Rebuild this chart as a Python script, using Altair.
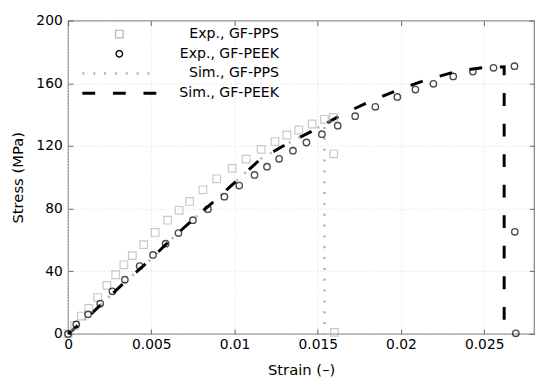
import altair as alt
import pandas as pd

series_names = ["Exp., GF-PPS", "Exp., GF-PEEK", "Sim., GF-PPS", "Sim., GF-PEEK"]

exp_pps_strain = [0, 0.0004, 0.0008, 0.00124, 0.00178, 0.00233, 0.00286, 0.00335, 0.00386,
                  0.00454, 0.00523, 0.00598, 0.00667, 0.0073, 0.0081, 0.00893, 0.00986,
                  0.0107, 0.0116, 0.01243, 0.01314, 0.01386, 0.01466, 0.0154, 0.01594,
                  0.01596, 0.016]
exp_pps_stress = [0, 5.5, 11.4, 16.3, 23.2, 31.0, 37.8, 44.1, 50.0, 57.0, 64.8, 72.6, 78.9,
                  84.6, 92.0, 99.0, 105.7, 111.6, 117.8, 122.8, 127.0, 130.2, 134.0, 137.0,
                  138.2, 115.0, 1.0]

exp_peek_strain = [0, 0.00049, 0.0012, 0.00193, 0.00266, 0.00341, 0.0043, 0.0051, 0.00586,
                   0.00663, 0.0075, 0.0084, 0.00939, 0.01028, 0.0112, 0.01195, 0.01268,
                   0.01351, 0.01432, 0.01525, 0.0162, 0.01725, 0.01846, 0.01978, 0.02087,
                   0.02195, 0.02314, 0.02432, 0.02556, 0.02682, 0.02684, 0.0269]
exp_peek_stress = [0, 6.1, 12.5, 19.4, 27.2, 34.6, 43.3, 50.4, 57.6, 64.4, 72.6, 79.6, 87.6,
                   94.7, 101.5, 106.8, 111.8, 117.0, 122.2, 127.5, 132.9, 139.0, 145.0, 151.3,
                   156.0, 159.7, 164.4, 167.5, 169.9, 170.9, 65.2, 0.4]

sim_pps_strain = [0, 0.0013, 0.0034, 0.0049, 0.006, 0.0075, 0.0088, 0.0102, 0.0116, 0.0133,
                  0.0148, 0.0154, 0.0154]
sim_pps_stress = [0, 12.0, 33.0, 47.0, 58.5, 73.0, 85.0, 98.5, 112.0, 122.2, 130.5, 134.0, 0]

sim_peek_strain = [0, 0.0013, 0.0034, 0.0049, 0.006, 0.0075, 0.0088, 0.0102, 0.0116, 0.0133,
                   0.015, 0.0165, 0.0182, 0.02, 0.0217, 0.0235, 0.0252, 0.0262, 0.0262]
sim_peek_stress = [0, 12.0, 33.0, 47.0, 58.5, 73.0, 85.0, 98.5, 112.0, 122.2, 131.3, 140.3,
                   148.7, 156.5, 162.8, 168.0, 170.3, 170.5, 0]

x_ticks = [0, 0.005, 0.01, 0.015, 0.02, 0.025]
y_ticks = [0, 40, 80, 120, 160, 200]

colors = ["#b3b3b3", "#000000", "#b3b3b3", "#000000"]
shapes = ["square", "circle", "stroke", "stroke"]
dashes = [[1, 0], [1, 0], [2, 9], [13, 18]]
widths = [1.2, 1.4, 2.6, 3.0]
sizes = [60, 42, 5625, 5625]

exp_df = pd.concat([
    pd.DataFrame({"strain": exp_pps_strain, "stress": exp_pps_stress, "series": series_names[0]}),
    pd.DataFrame({"strain": exp_peek_strain, "stress": exp_peek_stress, "series": series_names[1]}),
], ignore_index=True)

sim_df = pd.concat([
    pd.DataFrame({"strain": sim_pps_strain, "stress": sim_pps_stress, "series": series_names[2],
                  "idx": range(len(sim_pps_strain))}),
    pd.DataFrame({"strain": sim_peek_strain, "stress": sim_peek_stress, "series": series_names[3],
                  "idx": range(len(sim_peek_strain))}),
], ignore_index=True)

font = "DejaVu Sans"
xscale = alt.Scale(domain=[0, 0.028], nice=False, zero=False)
yscale = alt.Scale(domain=[0, 200], nice=False)

legend = alt.Legend(
    title=None, orient="none", legendX=13, legendY=4, direction="vertical",
    labelFont=font, labelFontSize=14.3, labelColor="#000", labelOffset=123, labelAlign="right",
    clipHeight=19.3, rowPadding=0, padding=0, symbolOpacity=1,
)

color_scale = alt.Scale(domain=series_names, range=colors)
shape_scale = alt.Scale(domain=series_names, range=shapes)
dash_scale = alt.Scale(domain=series_names, range=dashes)
width_scale = alt.Scale(type="ordinal", domain=series_names, range=widths)
size_scale = alt.Scale(type="ordinal", domain=series_names, range=sizes)

axis_common = dict(
    labelFont=font, labelFontSize=14, labelColor="#000", titleFont=font, titleFontSize=15,
    titleFontWeight="normal", titleColor="#000", domain=False, offset=-5, tickSize=5,
    tickColor="#666", tickWidth=1,
)

x_bottom = alt.Axis(values=x_ticks, format="~g", title="Strain (\u2013)", labelPadding=4,
                    titlePadding=11, grid=True, gridColor="#dcdcdc", gridDash=[1, 2],
                    labelFlush=False, **axis_common)
y_left = alt.Axis(values=y_ticks, title="Stress (MPa)", labelPadding=6, titlePadding=11,
                  grid=True, gridColor="#dcdcdc", gridDash=[1, 2], **axis_common)
x_top = alt.Axis(values=x_ticks, orient="top", labels=False, title=None, grid=False,
                 domain=False, offset=-5, tickSize=5, tickColor="#666")
y_right = alt.Axis(values=y_ticks, orient="right", labels=False, title=None, grid=False,
                   domain=False, offset=-5, tickSize=5, tickColor="#666")

lines = alt.Chart(sim_df).mark_line().encode(
    x=alt.X("strain:Q", scale=xscale, axis=x_bottom),
    y=alt.Y("stress:Q", scale=yscale, axis=y_left),
    color=alt.Color("series:N", scale=color_scale, legend=legend),
    strokeDash=alt.StrokeDash("series:N", scale=dash_scale, legend=legend),
    strokeWidth=alt.StrokeWidth("series:N", scale=width_scale, legend=legend),
    order="idx:Q",
    detail="series:N",
)

points = alt.Chart(exp_df).mark_point(filled=False).encode(
    x=alt.X("strain:Q", scale=xscale, axis=x_top),
    y=alt.Y("stress:Q", scale=yscale, axis=y_right),
    color=alt.Color("series:N", scale=color_scale, legend=legend),
    shape=alt.Shape("series:N", scale=shape_scale, legend=legend),
    size=alt.Size("series:N", scale=size_scale, legend=legend),
    strokeWidth=alt.StrokeWidth("series:N", scale=width_scale, legend=legend),
)

chart = alt.layer(lines, points).resolve_axis(x="independent", y="independent").resolve_scale(
    x="shared", y="shared"
).properties(
    width=473, height=318,
    autosize=alt.AutoSizeParams(type="none"),
    padding={"left": 61, "top": 10, "right": 8, "bottom": 48},
    background="white",
).configure_view(stroke="#8a8a8a", strokeWidth=1.3)

chart.save("out.html", embed_options={"renderer": "svg", "actions": False})
